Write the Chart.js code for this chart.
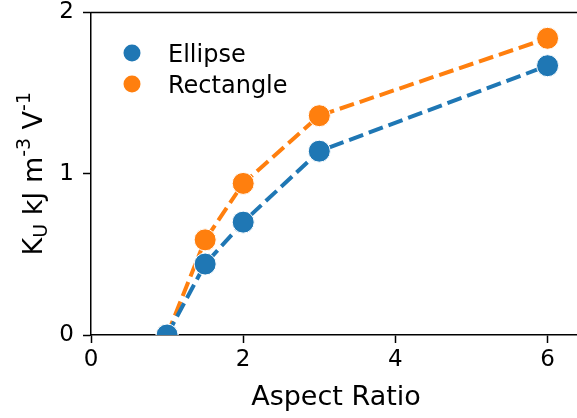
<!DOCTYPE html>
<html>
<head>
<meta charset="utf-8">
<script src="https://cdn.jsdelivr.net/npm/chart.js@4.4.1/dist/chart.umd.min.js"></script>
<style>
  html, body { margin: 0; padding: 0; background: #fff; overflow: hidden; }
  #wrap { width: 600px; height: 418px; }
</style>
</head>
<body>
<div id="wrap"><canvas id="chart" width="600" height="418"></canvas></div>
<script>
const aspectRatios = [1, 1.5, 2, 3, 6];
const ellipseKu = [0, 0.44, 0.70, 1.14, 1.67];
const rectangleKu = [0, 0.59, 0.94, 1.36, 1.84];
const xTickValues = [0, 2, 4, 6];
const yTickValues = [0, 1, 2];
const seriesNames = ["Ellipse", "Rectangle"];
const seriesColors = ["#1f77b4", "#ff7f0e"];
const xTitle = "Aspect Ratio";

const FONT = "'DejaVu Sans', sans-serif";

const toPoints = (ys) => aspectRatios.map((x, i) => ({ x: x, y: ys[i] }));

const makeSeries = (label, ys, color) => ({
  label: label,
  data: toPoints(ys),
  borderColor: color,
  backgroundColor: color,
  borderWidth: 4,
  borderDash: [15, 6],
  pointRadius: 11,
  pointHoverRadius: 11,
  pointBackgroundColor: color,
  pointBorderColor: "#fff",
  pointBorderWidth: 1,
  tension: 0,
});

// no auto padding for overhanging tick labels
const noPad = (s) => {
  s.paddingTop = 0;
  s.paddingBottom = 0;
  s.paddingLeft = 0;
  s.paddingRight = 0;
};

// frame top line, axis titles and the legend
const decorations = {
  id: "decorations",
  afterDraw(chart) {
    const ctx = chart.ctx;
    const area = chart.chartArea;
    ctx.save();

    ctx.strokeStyle = "#000";
    ctx.lineWidth = 1.5;
    ctx.beginPath();
    ctx.moveTo(area.left - 0.75, area.top);
    ctx.lineTo(area.right, area.top);
    ctx.stroke();

    ctx.fillStyle = "#000";
    ctx.textBaseline = "alphabetic";

    // x title
    ctx.font = "27px " + FONT;
    ctx.textAlign = "center";
    ctx.fillText(xTitle, 336, 405);

    // y title with sub/superscripts
    const parts = [
      { t: "K", s: 1, dy: 0 },
      { t: "U", s: 0.7, dy: 0.2 },
      { t: " kJ m", s: 1, dy: 0 },
      { t: "-3", s: 0.7, dy: -0.45 },
      { t: " V", s: 1, dy: 0 },
      { t: "-1", s: 0.7, dy: -0.45 },
    ];
    const size = 27;
    let total = 0;
    parts.forEach((p) => {
      ctx.font = (size * p.s) + "px " + FONT;
      p.w = ctx.measureText(p.t).width;
      total += p.w;
    });
    ctx.translate(42, (area.top + area.bottom) / 2);
    ctx.rotate(-Math.PI / 2);
    ctx.textAlign = "left";
    let x = -total / 2;
    parts.forEach((p) => {
      ctx.font = (size * p.s) + "px " + FONT;
      ctx.fillText(p.t, x, p.dy * size);
      x += p.w;
    });
    ctx.setTransform(1, 0, 0, 1, 0, 0);

    // legend
    ctx.font = "24px " + FONT;
    ctx.textAlign = "left";
    chart.data.datasets.forEach((ds, i) => {
      const cy = 53 + i * 31;
      ctx.fillStyle = ds.backgroundColor;
      ctx.beginPath();
      ctx.arc(132, cy, 8.5, 0, Math.PI * 2);
      ctx.fill();
      ctx.fillStyle = "#000";
      ctx.fillText(ds.label, 168, cy + 8.8);
    });
    ctx.restore();
  },
};

new Chart(document.getElementById("chart").getContext("2d"), {
  type: "line",
  data: {
    datasets: [
      makeSeries(seriesNames[0], ellipseKu, seriesColors[0]),
      makeSeries(seriesNames[1], rectangleKu, seriesColors[1]),
    ],
  },
  options: {
    responsive: false,
    animation: false,
    layout: { autoPadding: false, padding: { top: 12.5, left: 0, right: 0, bottom: 0 } },
    plugins: {
      legend: { display: false },
      tooltip: { enabled: false },
    },
    scales: {
      x: {
        type: "linear",
        min: 0,
        max: 6.689,
        afterBuildTicks: (s) => { s.ticks = xTickValues.map((v) => ({ value: v })); },
        afterFit: (s) => { s.height = 83; noPad(s); },
        grid: { drawOnChartArea: false, tickLength: 8, tickWidth: 1.5, tickColor: "#000" },
        border: { color: "#000", width: 1.5 },
        ticks: { color: "#000", font: { family: FONT, size: 23 }, padding: 3, maxRotation: 0, autoSkip: false },
      },
      y: {
        type: "linear",
        min: 0,
        max: 2,
        afterBuildTicks: (s) => { s.ticks = yTickValues.map((v) => ({ value: v })); },
        afterFit: (s) => { s.width = 91; noPad(s); },
        grid: { drawOnChartArea: false, tickLength: 8, tickWidth: 1.5, tickColor: "#000" },
        border: { color: "#000", width: 1.5 },
        ticks: { color: "#000", font: { family: FONT, size: 23 }, padding: 9 },
      },
    },
  },
  plugins: [decorations],
});
</script>
</body>
</html>
